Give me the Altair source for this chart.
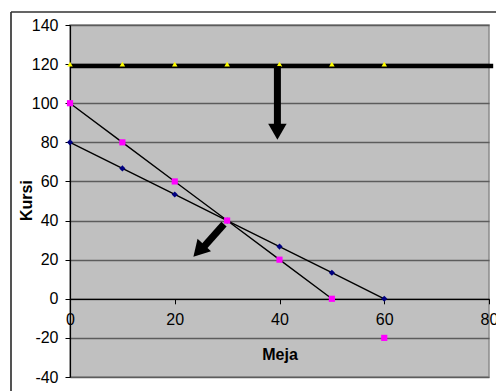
import altair as alt
import pandas as pd

# ---- data ----
x_vals = [0, 10, 20, 30, 40, 50, 60]
navy_y = [80, 66.67, 53.33, 40, 26.67, 13.33, 0]
magenta_y = [100, 80, 60, 40, 20, 0, -20]
yellow_y = [120, 120, 120, 120, 120, 120, 120]
magenta_line_pts = 6  # first six magenta points are joined

limit_x = [0, 80.8]
limit_y = [119, 119]

shaft_x = [39.6, 29.4]
shaft_y = [119, 38.2]
shaft_x2 = [39.6, 25.2]
shaft_y2 = [87, 25.5]
head_x = [39.6, 24.6]
head_y = [85.4, 24.5]
head_angle = [180, 223]

x_ticks = [0, 20, 40, 60, 80]
y_ticks = [-40, -20, 0, 20, 40, 60, 80, 100, 120, 140]

FONT = "Liberation Sans"

xs = alt.Scale(domain=[0, 80], nice=False, zero=False)
ys = alt.Scale(domain=[-40, 140], nice=False, zero=False)

pts = pd.DataFrame({
    "x": x_vals * 2,
    "y": navy_y + magenta_y,
    "s": ["navy"] * 7 + ["magenta"] * 7,
})
tri = pd.DataFrame({"x": x_vals, "y": yellow_y})
lines = pd.concat([
    pd.DataFrame({"x": x_vals, "y": navy_y, "s": "navy"}),
    pd.DataFrame({"x": x_vals[:magenta_line_pts], "y": magenta_y[:magenta_line_pts], "s": "magenta"}),
])
limit = pd.DataFrame({"x": limit_x, "y": limit_y})
shafts = pd.DataFrame({"x": shaft_x, "y": shaft_y, "x2": shaft_x2, "y2": shaft_y2})
heads = pd.DataFrame({"x": head_x, "y": head_y, "a": head_angle})

x_axis = alt.Axis(values=x_ticks, offset=-78.2, domainColor="black", domainWidth=1.2,
                  tickColor="black", tickSize=5, labelFontSize=16, labelPadding=8,
                  labelFont=FONT, labelColor="black", labelFlush=False, labelOverlap=False,
                  labelExpr="'' + datum.value",
                  title="Meja", titleFont=FONT, titleFontSize=16, titleFontWeight="bold",
                  titleColor="black", titleY=56, titleBaseline="middle", grid=False)
y_axis = alt.Axis(values=y_ticks, domainColor="black", domainWidth=1.2, tickColor="black",
                  tickSize=5, labelFontSize=16, labelPadding=7, labelFont=FONT,
                  labelColor="black", labelFlush=False, labelOverlap=False,
                  labelExpr="'' + datum.value",
                  grid=True, gridColor="#5c5c5c", gridWidth=1.3,
                  title="Kursi", titleFont=FONT, titleFontSize=16, titleFontWeight="bold",
                  titleColor="black", titleX=-44, titleY=175, titleAngle=270,
                  titleAlign="center", titleBaseline="middle")

X = alt.X("x:Q", scale=xs, axis=x_axis)
Y = alt.Y("y:Q", scale=ys, axis=y_axis)

line_layer = alt.Chart(lines).mark_line(color="black", strokeWidth=1.4).encode(
    x=X, y=Y, detail="s:N")

pt_shapes = alt.Chart(pts).mark_point(filled=True, size=38, opacity=1).encode(
    x=X, y=Y,
    color=alt.Color("s:N", scale=alt.Scale(domain=["navy", "magenta"],
                                           range=["#000080", "#FF00FF"]), legend=None),
    shape=alt.Shape("s:N", scale=alt.Scale(domain=["navy", "magenta"],
                                           range=["diamond", "square"]), legend=None),
)

limit_layer = alt.Chart(limit).mark_line(color="black", strokeWidth=4.5, clip=False).encode(
    x=X, y=Y)

tri_layer = alt.Chart(tri).mark_point(shape="triangle-up", filled=True, color="#FFFF00",
                                      size=30, opacity=1).encode(x=X, y=Y)

shaft_layer = alt.Chart(shafts).mark_rule(color="black", strokeWidth=7, strokeCap="butt").encode(
    x=X, y=Y, x2="x2:Q", y2="y2:Q")

head_layer = alt.Chart(heads).mark_point(shape="triangle-up", filled=True, color="black",
                                         size=340, opacity=1).encode(
    x=X, y=Y, angle=alt.Angle("a:Q", scale=None))

# outer chart border (decorative frame)
frame_left = alt.Chart(limit).mark_rule(color="#333333", strokeWidth=1.2).encode(
    x=alt.value(-59), y=alt.value(-13), y2=alt.value(400))
frame_top = alt.Chart(limit).mark_rule(color="#333333", strokeWidth=1.2).encode(
    x=alt.value(-59), x2=alt.value(440), y=alt.value(-13))

chart = alt.layer(
    line_layer, pt_shapes, limit_layer, tri_layer, shaft_layer, head_layer, frame_left, frame_top
).properties(
    width=419, height=352,
    autosize=alt.AutoSizeParams(type="none"),
    padding={"left": 70, "top": 25, "right": 7, "bottom": 14},
    background="white",
).configure_view(
    fill="#C0C0C0", stroke="#8a8a8a", strokeWidth=1.5
).configure_axis(
    labelOverlap=False
)

chart.save("out.html", embed_options={"renderer": "svg", "actions": False})
